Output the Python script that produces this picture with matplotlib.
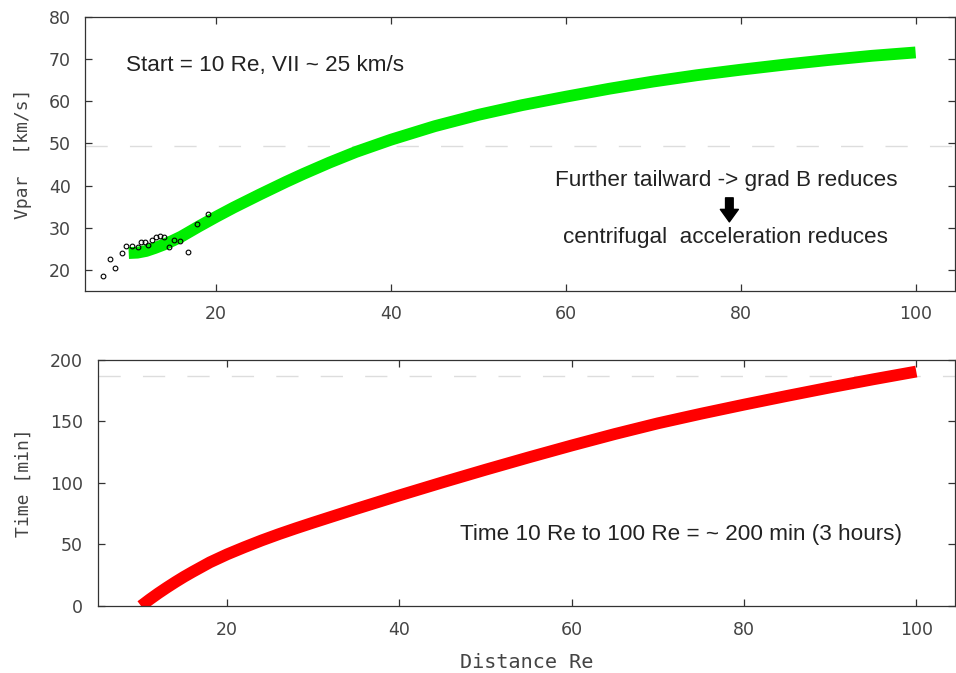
import matplotlib
matplotlib.use('Agg')
import matplotlib.pyplot as plt

# Parallel velocity along the field line (green band)
dist_v = [10, 11, 12, 13, 14, 15, 16, 18, 20, 22, 25, 28, 30, 33, 36, 40,
          45, 50, 55, 60, 65, 70, 75, 80, 85, 90, 95, 100]
vpar = [24.0, 24.1, 24.5, 25.2, 26.0, 26.9, 27.9, 30.3, 32.6, 34.8, 37.9,
        40.9, 42.8, 45.5, 48.0, 50.9, 54.1, 56.8, 59.1, 61.1, 63.0, 64.7,
        66.2, 67.5, 68.7, 69.8, 70.8, 71.6]

# Observed points (open circles)
obs_dist = [7.07, 7.84, 8.41, 9.24, 9.74, 10.35, 11.08, 11.38, 11.84, 12.22,
            12.71, 13.10, 13.56, 14.02, 14.62, 15.23, 15.92, 16.83, 17.79, 19.08]
obs_v = [18.6, 22.7, 20.4, 24.1, 25.7, 25.7, 25.4, 26.7, 26.7, 26.0,
         27.2, 27.7, 28.1, 27.8, 25.5, 27.2, 26.9, 24.3, 31.0, 33.2]

# Travel time (red band)
dist_t = [10, 11, 12, 13, 14, 15, 16, 18, 20, 22, 24, 26, 28, 30, 32, 35,
          40, 45, 50, 55, 60, 65, 70, 75, 80, 85, 90, 95, 100]
time_min = [0, 5.3, 10.3, 15.0, 19.5, 23.8, 27.8, 35.5, 42.0, 47.8, 53.3,
            58.4, 63.2, 67.8, 72.3, 79.0, 89.9, 100.5, 110.8, 120.8, 130.5,
            139.8, 148.5, 156.3, 163.7, 170.8, 177.7, 184.3, 190.6]

v_ref = 49.5
t_ref = 187

fig = plt.figure(figsize=(9.56, 6.73), dpi=100)
ax1 = fig.add_axes([0.0889, 0.5676, 0.910, 0.4071])
ax2 = fig.add_axes([0.1025, 0.0996, 0.8965, 0.3655])

label_font = {'family': 'DejaVu Sans Mono', 'color': '#444444'}
note_font = {'family': 'Liberation Sans', 'size': 16.2, 'color': '#222222'}

for ax in (ax1, ax2):
    for sp in ax.spines.values():
        sp.set_color('#333333')
        sp.set_linewidth(0.9)
    ax.tick_params(direction='in', top=True, right=True, length=5,
                   width=0.9, color='#333333', labelcolor='#444444',
                   labelsize=12.5)
    ax.set_xlim(5, 104.5)
    ax.set_xticks([20, 40, 60, 80, 100])

# top panel
ax1.axhline(v_ref, color='#dddddd', lw=1, dashes=(16, 16))
ax1.plot(dist_v, vpar, color='#00ee00', lw=8.5, solid_capstyle='butt')
ax1.plot(obs_dist, obs_v, 'o', ms=3.4, mfc='none', mec='black', mew=0.8)
ax1.set_ylim(15, 80)
ax1.set_yticks(range(20, 81, 10))
ax1.tick_params(axis='both', pad=10)
ax1.set_ylabel('Vpar  [km/s]', fontsize=13, labelpad=12, **label_font)

ax1.text(9.74, 68.4, 'Start = 10 Re, VII ~ 25 km/s', ha='left', va='center',
         **note_font)
ax1.text(78.4, 41.2, 'Further tailward -> grad B reduces', ha='center',
         va='center', **note_font)
ax1.text(78.3, 27.7, 'centrifugal  acceleration reduces', ha='center',
         va='center', **note_font)
ax1.annotate('', xy=(78.7, 31.4), xytext=(78.7, 37.1),
             arrowprops=dict(facecolor='black', edgecolor='black', width=5.5,
                             headwidth=13, headlength=9, shrink=0))

# bottom panel
ax2.axhline(t_ref, color='#dddddd', lw=1, dashes=(16, 16))
ax2.plot(dist_t, time_min, color='#ff0000', lw=8.5, solid_capstyle='butt')
ax2.set_ylim(0, 200)
ax2.set_yticks([0, 50, 100, 150, 200])
ax2.tick_params(axis='both', pad=11)
ax2.set_ylabel('Time [min]', fontsize=13, labelpad=12, **label_font)
ax2.set_xlabel('Distance Re', fontsize=14.5, labelpad=10, **label_font)

ax2.text(47.0, 58.0, 'Time 10 Re to 100 Re = ~ 200 min (3 hours)', ha='left',
         va='center', **note_font)

fig.savefig('out.png', dpi=100)
